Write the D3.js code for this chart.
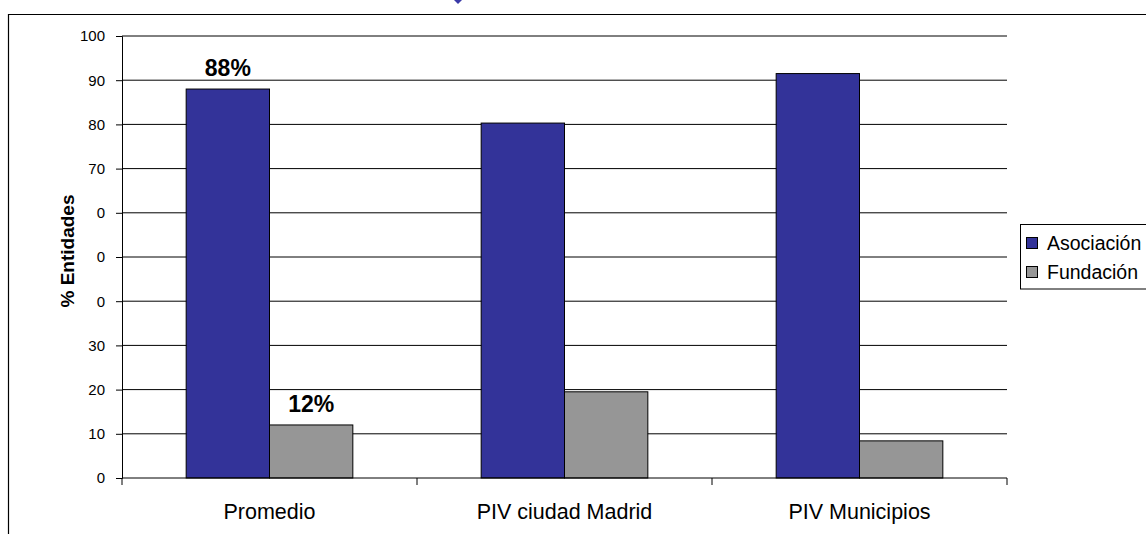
<!DOCTYPE html>
<html><head><meta charset="utf-8">
<script src="https://cdn.jsdelivr.net/npm/d3@7"></script>
<style>body{margin:0;background:#fff}svg{display:block}</style>
</head><body>
<svg id="c" width="1146" height="534"></svg>
<script>
const categories = ["Promedio", "PIV ciudad Madrid", "PIV Municipios"];
const seriesNames = ["Asociación", "Fundación"];
const asociacion = [88.0, 80.3, 91.5];
const fundacion = [12.0, 19.5, 8.4];
const tickValues = [0, 10, 20, 30, 40, 50, 60, 70, 80, 90, 100];
const tickLabels = ["0", "10", "20", "30", "0", "0", "0", "70", "80", "90", "100"];
const barLabels = [["88%", null, null], ["12%", null, null]];
const colors = ["#333399", "#969696"];

const svg = d3.select("#c");
const font = "'Liberation Sans', Arial, sans-serif";

// outer frame
svg.append("path").attr("d", "M8.5,540 V14.5 H1150").attr("fill", "none").attr("stroke", "#000").attr("stroke-width", 1.2);
// decorative marker peeking at top
svg.append("path").attr("d", "M452,-2 L458,4 L464,-2 Z").attr("fill", "#3a3aa8");

const y = d3.scaleLinear().domain([0, 100]).range([478, 36]);
const x0 = d3.scaleBand().domain(categories).range([122, 1007]).padding(0);
const x1 = d3.scaleBand().domain(seriesNames).range([0, x0.bandwidth()]).paddingInner(0).paddingOuter(0.77);

const values = [asociacion, fundacion];
const data = categories.map((c, i) => ({cat: c, vals: seriesNames.map((s, j) => ({s, j, v: values[j][i], label: barLabels[j][i]}))}));

// gridlines
svg.append("g").selectAll("line").data(tickValues.filter(t => t > 0)).join("line")
  .attr("x1", 122).attr("x2", 1007)
  .attr("y1", d => y(d)).attr("y2", d => y(d))
  .attr("stroke", "#000").attr("stroke-width", 1);

// y axis
const yAxis = d3.axisLeft(y).tickValues(tickValues).tickSize(6).tickPadding(11)
  .tickFormat((d, i) => tickLabels[i]);
const gy = svg.append("g").attr("transform", "translate(122,0)").call(yAxis);
gy.select(".domain").attr("stroke", "#000");
gy.selectAll(".tick line").attr("stroke", "#000");
gy.selectAll("text").attr("font-family", font).attr("font-size", 15).attr("fill", "#000");

// bars
const groups = svg.append("g").selectAll("g").data(data).join("g")
  .attr("transform", d => `translate(${x0(d.cat)},0)`);
groups.selectAll("rect").data(d => d.vals).join("rect")
  .attr("x", d => x1(d.s)).attr("width", x1.bandwidth())
  .attr("y", d => y(d.v)).attr("height", d => y(0) - y(d.v))
  .attr("fill", d => colors[d.j]).attr("stroke", "#000").attr("stroke-width", 1);
groups.selectAll("text.lbl").data(d => d.vals.filter(v => v.label)).join("text")
  .attr("class", "lbl")
  .attr("x", d => x1(d.s) + x1.bandwidth() / 2)
  .attr("y", d => y(d.v) - 13)
  .attr("text-anchor", "middle").attr("font-family", font)
  .attr("font-weight", "bold").attr("font-size", 23).attr("fill", "#000")
  .text(d => d.label);

// x axis
const bounds = [122, ...categories.map(c => x0(c) + x0.bandwidth())];
const gx = svg.append("g");
gx.append("line").attr("x1", 122).attr("x2", 1007).attr("y1", y(0)).attr("y2", y(0)).attr("stroke", "#000");
gx.selectAll("line.t").data(bounds).join("line").attr("class", "t")
  .attr("x1", d => d).attr("x2", d => d).attr("y1", y(0)).attr("y2", y(0) + 7).attr("stroke", "#000");
gx.selectAll("text").data(categories).join("text")
  .attr("x", d => x0(d) + x0.bandwidth() / 2).attr("y", 519)
  .attr("text-anchor", "middle").attr("font-family", font).attr("font-size", 21.5).attr("fill", "#000")
  .text(d => d);

// y title
svg.append("text").attr("transform", "translate(74,251) rotate(-90)")
  .attr("text-anchor", "middle").attr("font-family", font).attr("font-weight", "bold")
  .attr("font-size", 19).attr("fill", "#000").text("% Entidades");

// legend
const lg = svg.append("g");
lg.append("rect").attr("x", 1020.5).attr("y", 224.5).attr("width", 140).attr("height", 64.5)
  .attr("fill", "#fff").attr("stroke", "#000");
const li = lg.selectAll("g").data(seriesNames).join("g")
  .attr("transform", (d, i) => `translate(0,${i * 29})`);
li.append("rect").attr("x", 1026.5).attr("y", 237.5).attr("width", 11).attr("height", 11)
  .attr("fill", (d, i) => colors[i]).attr("stroke", "#000");
li.append("text").attr("x", 1047).attr("y", 249.5).attr("font-family", font).attr("font-size", 19.5)
  .attr("fill", "#000").text(d => d);
</script>
</body></html>
